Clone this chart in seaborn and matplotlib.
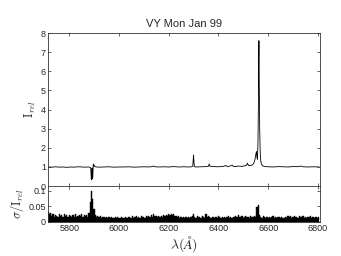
import numpy as np
import pandas as pd
import matplotlib
matplotlib.use("Agg")
import matplotlib.pyplot as plt
import seaborn as sns

# spectrum (wavelength in Angstrom, relative intensity)
spec_wl = [5715, 5730, 5745, 5760, 5775, 5790, 5805, 5820, 5835, 5850, 5865, 5878,
           5884, 5886, 5887, 5888, 5889, 5890, 5891, 5892, 5893, 5894, 5895, 5896,
           5897, 5898, 5900, 5903, 5910, 5925, 5940, 5960, 5980, 6000, 6020, 6040,
           6060, 6080, 6100, 6120, 6135, 6140, 6145, 6160, 6180, 6200, 6220, 6240,
           6260, 6280, 6292, 6297, 6299, 6300, 6301, 6303, 6310, 6330, 6350, 6360,
           6363, 6366, 6380, 6400, 6420, 6430, 6435, 6445, 6456, 6460, 6470, 6480,
           6495, 6505, 6512, 6517, 6521, 6530, 6538, 6544, 6548, 6551, 6553, 6555,
           6557, 6559, 6561, 6562, 6563, 6564, 6566, 6568, 6570, 6573, 6578, 6585,
           6600, 6620, 6640, 6660, 6680, 6700, 6710, 6720, 6730, 6740, 6760, 6780, 6805]
spec_flux = [1.00, 0.99, 1.01, 0.99, 1.00, 0.98, 1.00, 0.99, 1.01, 1.00, 0.99, 1.00,
             0.98, 0.95, 0.85, 0.55, 0.33, 0.45, 0.80, 0.95, 0.60, 0.38, 0.55, 0.90,
             1.15, 1.05, 1.10, 1.02, 1.00, 0.99, 1.00, 1.01, 0.99, 1.00, 1.00, 1.01,
             0.99, 1.00, 1.01, 1.00, 1.02, 1.05, 1.01, 1.00, 1.01, 1.00, 1.02, 1.00,
             1.01, 1.00, 1.01, 1.05, 1.45, 1.62, 1.40, 1.02, 1.00, 1.01, 1.02, 1.03,
             1.16, 1.04, 1.02, 1.01, 1.03, 1.08, 1.02, 1.04, 1.10, 1.03, 1.02, 1.05,
             1.03, 1.06, 1.08, 1.20, 1.07, 1.08, 1.12, 1.25, 1.45, 1.70, 1.80, 1.50,
             1.40, 2.20, 4.50, 6.50, 7.60, 5.80, 3.00, 1.80, 1.35, 1.15, 1.06, 1.03,
             1.01, 1.00, 1.02, 1.01, 1.00, 1.02, 1.03, 1.01, 1.05, 1.01, 1.00, 1.01, 1.00]

# relative error, sampled every 5 A from 5715 to 6805
noise_wl = np.arange(5715, 6806, 5)
noise = [0.032, 0.024, 0.028, 0.018, 0.026, 0.016, 0.022, 0.020, 0.017, 0.024,
         0.019, 0.022, 0.016, 0.024, 0.018, 0.021, 0.015, 0.023, 0.019, 0.016,
         0.022, 0.017, 0.024, 0.016, 0.020, 0.023, 0.018, 0.025, 0.016, 0.021,
         0.019, 0.023, 0.017, 0.030, 0.065, 0.100, 0.075, 0.040, 0.021, 0.016,
         0.020, 0.015, 0.018, 0.013, 0.017, 0.015, 0.012, 0.016, 0.014, 0.015,
         0.013, 0.016, 0.014, 0.012, 0.015, 0.013, 0.017, 0.012, 0.014, 0.016,
         0.013, 0.012, 0.015, 0.013, 0.014, 0.017, 0.013, 0.012, 0.019, 0.014,
         0.015, 0.018, 0.013, 0.016, 0.014, 0.019, 0.015, 0.017, 0.013, 0.018,
         0.016, 0.019, 0.015, 0.021, 0.017, 0.026, 0.018, 0.020, 0.016, 0.019,
         0.017, 0.020, 0.016, 0.021, 0.018, 0.023, 0.019, 0.025, 0.021, 0.027,
         0.022, 0.025, 0.020, 0.018, 0.015, 0.019, 0.014, 0.016, 0.013, 0.015,
         0.012, 0.016, 0.014, 0.017, 0.013, 0.015, 0.018, 0.024, 0.017, 0.014,
         0.018, 0.015, 0.017, 0.014, 0.019, 0.016, 0.013, 0.024, 0.015, 0.019,
         0.016, 0.014, 0.017, 0.015, 0.013, 0.016, 0.014, 0.018, 0.015, 0.013,
         0.017, 0.014, 0.016, 0.013, 0.015, 0.018, 0.014, 0.016, 0.013, 0.017,
         0.015, 0.019, 0.016, 0.022, 0.017, 0.015, 0.018, 0.014, 0.016, 0.019,
         0.015, 0.017, 0.014, 0.018, 0.016, 0.015, 0.019, 0.017, 0.048, 0.055,
         0.022, 0.017, 0.014, 0.018, 0.015, 0.013, 0.017, 0.014, 0.016, 0.013,
         0.015, 0.018, 0.014, 0.016, 0.012, 0.015, 0.017, 0.013, 0.016, 0.014,
         0.014, 0.017, 0.013, 0.019, 0.015, 0.018, 0.014, 0.016, 0.020, 0.015,
         0.017, 0.014, 0.019, 0.016, 0.015, 0.018, 0.013, 0.016, 0.014, 0.017,
         0.015, 0.018, 0.014, 0.016, 0.013, 0.017, 0.015, 0.014, 0.016]

spec_df = pd.DataFrame({'wl': spec_wl, 'flux': spec_flux})
noise_df = pd.DataFrame({'wl': noise_wl, 'err': noise})

sns.set_style('ticks')
plt.rcParams['font.family'] = ['Liberation Sans', 'DejaVu Sans']
plt.rcParams['mathtext.fontset'] = 'cm'
plt.rcParams['xtick.direction'] = 'in'
plt.rcParams['ytick.direction'] = 'in'

fig = plt.figure(figsize=(3.41, 2.56), dpi=100)
ax1 = fig.add_axes([0.141, 0.273, 0.797, 0.598])
ax2 = fig.add_axes([0.141, 0.133, 0.797, 0.140], sharex=ax1)

sns.lineplot(x='wl', y='flux', data=spec_df, ax=ax1, color='black', linewidth=0.6)
ax1.set_ylim(0, 8)
ax1.set_yticks(range(0, 9))
ax1.set_ylabel(r'$\mathrm{I}_{rel}$', fontsize=9, labelpad=2)
ax1.set_xlabel('')
ax1.set_title('VY Mon Jan 99', fontsize=8, pad=4)
ax1.tick_params(labelbottom=False)

ax2.fill_between(noise_df['wl'], noise_df['err'], step='mid', color='black', linewidth=0.3)
ax2.set_ylim(0, 0.115)
ax2.set_yticks([0, 0.05, 0.1])
ax2.set_yticklabels(['0', '0.05', '0.1'])
ax2.set_ylabel(r'$\sigma/\mathrm{I}_{rel}$', fontsize=9, labelpad=2)
ax2.set_xlabel(r'$\lambda(\AA)$', fontsize=10, labelpad=1)
ax2.set_xlim(5715, 6808)
ax2.set_xticks([5800, 6000, 6200, 6400, 6600, 6800])

for ax in (ax1, ax2):
    ax.tick_params(top=True, right=True, labelsize=6.5, length=2, width=0.5, pad=1.5)
    for s in ax.spines.values():
        s.set_linewidth(0.6)
        s.set_color('#333333')

fig.savefig('out.png', dpi=100)
